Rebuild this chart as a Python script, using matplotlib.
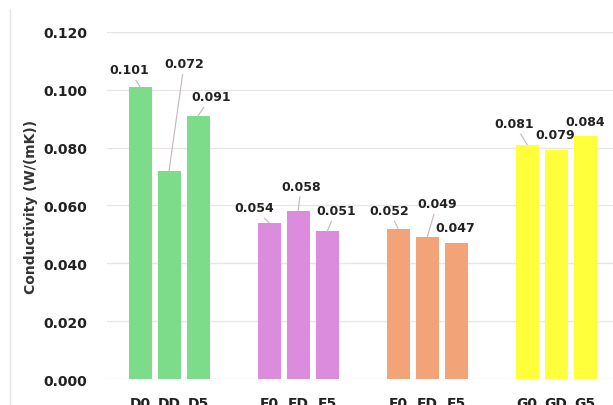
import numpy as np
import matplotlib.pyplot as plt
from matplotlib.lines import Line2D

groups = ["D", "E", "F", "G"]
samples = [["D0", "DD", "D5"], ["E0", "ED", "E5"],
           ["F0", "FD", "F5"], ["G0", "GD", "G5"]]
values = [[0.101, 0.072, 0.091],
          [0.054, 0.058, 0.051],
          [0.052, 0.049, 0.047],
          [0.081, 0.079, 0.084]]
group_colors = ["#7ddc8a", "#dc8cdc", "#f2a478", "#ffff3c"]

# data label offsets (pixels) from each bar top, as placed by hand
label_offsets = [[(-11, 17), (15, 107), (13, 19)],
                 [(-15, 15), (3, 25), (9, 21)],
                 [(-9, 18), (10, 34), (-1, 16)],
                 [(-13, 21), (-1, 16), (0, 15)]]

plt.rcParams.update({
    "font.family": "DejaVu Sans",
    "font.weight": "bold",
})

fig = plt.figure(figsize=(6.13, 4.06), dpi=100)
ax = fig.add_axes([0.1746, 0.064, 0.8254, 0.855])

GROUP_STEP = 4.45
x_all, lab_all = [], []
for gi, (names, vals) in enumerate(zip(samples, values)):
    x = gi * GROUP_STEP + np.arange(len(vals))
    ax.bar(x, vals, width=0.79, color=group_colors[gi], zorder=2)
    for xi, v, off in zip(x, vals, label_offsets[gi]):
        dist = np.hypot(*off)
        arrow = None
        if dist > 18:
            arrow = dict(arrowstyle="-", color="#c9b4b4", lw=0.8,
                         shrinkA=1, shrinkB=0)
        ax.annotate(f"{v:.3f}", xy=(xi, v), xytext=off,
                    textcoords="offset pixels", ha="center", va="center",
                    fontsize=9, fontweight="bold", color="#222222",
                    arrowprops=arrow, zorder=4)
    x_all.extend(x)
    lab_all.extend(names)

ax.set_xticks(x_all)
ax.set_xticklabels(lab_all)
ax.set_xlim(-1.14, 16.31)
ax.set_ylim(0, 0.12)
ax.set_yticks(np.arange(0, 0.121, 0.02))
ax.set_yticklabels([f"{t:.3f}" for t in np.arange(0, 0.121, 0.02)])
ax.tick_params(axis="both", length=0, labelsize=10, colors="#222222")
ax.tick_params(axis="y", pad=14)
ax.tick_params(axis="x", pad=12)
ax.grid(axis="y", color="#e6e6e6", lw=1, zorder=0)
for s in ax.spines.values():
    s.set_visible(False)
ax.set_ylabel("Conductivity (W/(mK))", fontsize=10, fontweight="bold",
              color="#333333")
ax.yaxis.set_label_coords(-0.136, 0.5)

# faint frame edge on the left
fig.add_artist(Line2D([0.017, 0.017], [0.0, 0.975], transform=fig.transFigure,
                      color="#e4e4e4", lw=1))

fig.savefig("out.png", dpi=100)
